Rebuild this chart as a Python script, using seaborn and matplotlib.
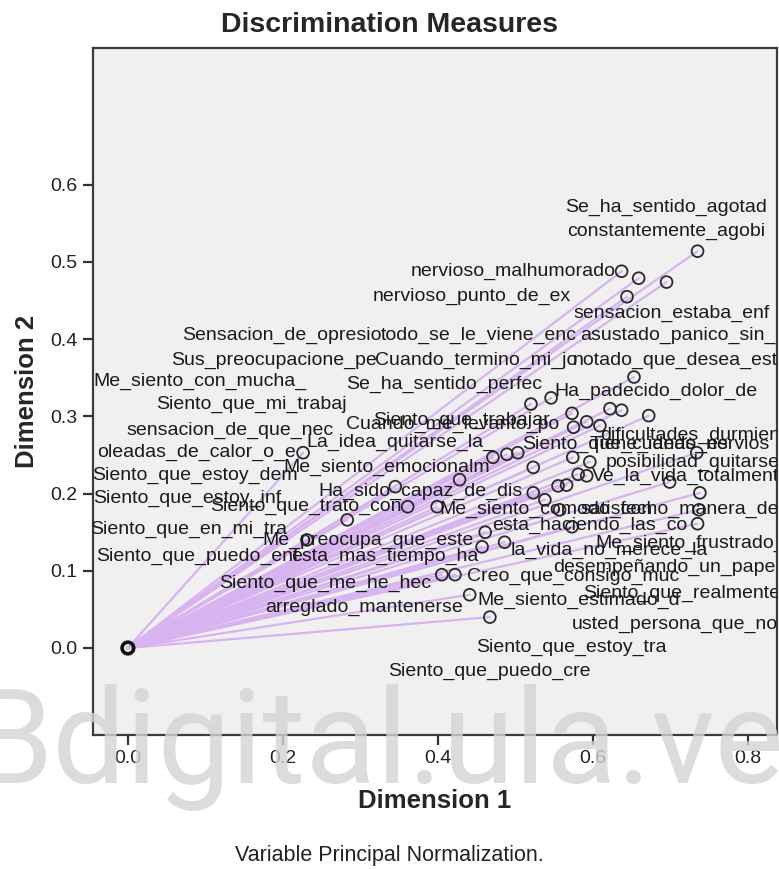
import matplotlib
matplotlib.use("Agg")
import matplotlib.pyplot as plt
import numpy as np
import pandas as pd
import seaborn as sns

# Variable names (truncated as in the CATPCA output)
variables = [
    "Se_ha_sentido_agotad", "constantemente_agobi", "nervioso_malhumorado",
    "nervioso_punto_de_ex", "sensacion_estaba_enf", "Sensacion_de_opresio",
    "todo_se_le_viene_enc", "asustado_panico_sin_", "Sus_preocupacione_pe",
    "Cuando_termino_mi_jo", "notado_que_desea_est", "Me_siento_con_mucha_",
    "Se_ha_sentido_perfec", "Ha_padecido_dolor_de", "Siento_que_mi_trabaj",
    "Cuando_me_levanto_po", "Siento_que_trabajar", "sensacion_de_que_nec",
    "dificultades_durmien", "Siento_que_cuando_es", "Tiene_ideas_nervios",
    "oleadas_de_calor_o_e", "La_idea_quitarse_la_", "Me_siento_emocionalm",
    "posibilidad_quitarse", "Siento_que_estoy_dem", "Ve_la_vida_totalment",
    "Ha_sido_capaz_de_dis", "Siento_que_estoy_inf", "Siento_que_trato_con",
    "Me_siento_comodo_con", "satisfecho_manera_de", "Siento_que_en_mi_tra",
    "esta_haciendo_las_co", "Me_preocupa_que_este", "Me_siento_frustrado_",
    "Siento_que_puedo_enf", "esta_mas_tiempo_ha", "la_vida_no_merece_la",
    "desempeñando_un_pape", "Siento_que_me_he_hec", "Creo_que_consigo_muc",
    "Siento_que_realmente", "arreglado_mantenerse", "Me_siento_estimado_d",
    "usted_persona_que_no", "Siento_que_estoy_tra", "Siento_que_puedo_cre",
]

# Discrimination measures, dimension 1
dim1 = [
    0.735, 0.695, 0.637, 0.644, 0.659, 0.520, 0.546, 0.672, 0.573, 0.622,
    0.653, 0.226, 0.637, 0.609, 0.471, 0.592, 0.575, 0.489, 0.734, 0.574,
    0.596, 0.503, 0.523, 0.428, 0.581, 0.345, 0.592, 0.523, 0.283, 0.361,
    0.399, 0.738, 0.231, 0.538, 0.461, 0.737, 0.457, 0.486, 0.555, 0.735,
    0.405, 0.566, 0.699, 0.422, 0.441, 0.557, 0.467, 0.573,
]

# Discrimination measures, dimension 2
dim2 = [
    0.514, 0.474, 0.488, 0.455, 0.479, 0.316, 0.324, 0.301, 0.304, 0.310,
    0.351, 0.253, 0.308, 0.288, 0.247, 0.293, 0.286, 0.251, 0.253, 0.247,
    0.241, 0.253, 0.234, 0.218, 0.225, 0.209, 0.223, 0.201, 0.166, 0.183,
    0.183, 0.201, 0.140, 0.192, 0.150, 0.179, 0.131, 0.137, 0.210, 0.161,
    0.095, 0.211, 0.215, 0.095, 0.069, 0.179, 0.040, 0.157,
]

# Where each variable's label is written (data coordinates, text centre)
label_x = [
    0.695, 0.695, 0.497, 0.444, 0.701, 0.199, 0.453, 0.710, 0.188, 0.449,
    0.706, 0.093, 0.408, 0.681, 0.160, 0.419, 0.431, 0.132, 0.725, 0.641,
    0.712, 0.088, 0.351, 0.334, 0.728, 0.086, 0.720, 0.378, 0.076, 0.230,
    0.539, 0.712, 0.079, 0.596, 0.310, 0.725, 0.089, 0.332, 0.621, 0.692,
    0.255, 0.574, 0.715, 0.305, 0.581, 0.706, 0.572, 0.467,
]
label_y = [
    0.571, 0.539, 0.488, 0.455, 0.433, 0.405, 0.405, 0.405, 0.373, 0.373,
    0.373, 0.345, 0.341, 0.332, 0.316, 0.290, 0.295, 0.282, 0.275, 0.264,
    0.264, 0.253, 0.266, 0.234, 0.241, 0.224, 0.222, 0.203, 0.194, 0.183,
    0.180, 0.180, 0.153, 0.159, 0.140, 0.135, 0.118, 0.118, 0.127, 0.105,
    0.084, 0.093, 0.071, 0.053, 0.061, 0.030, 0.001, -0.030,
]

x_ticks = [0.0, 0.2, 0.4, 0.6, 0.8]
y_ticks = [0.0, 0.1, 0.2, 0.3, 0.4, 0.5, 0.6]

sns.set_theme(style="white")
plt.rcParams["font.family"] = ["Liberation Sans", "DejaVu Sans"]

W, H = 779, 869
fig = plt.figure(figsize=(W / 100, H / 100), dpi=100)
ax = fig.add_axes([93 / W, 1 - 735 / H, (777 - 93) / W, (735 - 48) / H])
ax.set_facecolor("#F0F0F0")

# Vectors from the origin to each variable
vec = pd.DataFrame({
    "variable": np.repeat(variables, 2),
    "d1": np.ravel([[0.0, v] for v in dim1]),
    "d2": np.ravel([[0.0, v] for v in dim2]),
})
sns.lineplot(data=vec, x="d1", y="d2", units="variable", estimator=None,
             sort=False, color="#D7B4EF", linewidth=1.6, ax=ax, zorder=2)

pts = pd.DataFrame({"variable": variables, "d1": dim1, "d2": dim2})
sns.scatterplot(data=pts, x="d1", y="d2", marker="o", s=72,
                facecolor="none", edgecolor="#2a2a2a", linewidth=1.3,
                ax=ax, zorder=3)
# origin marker
ax.scatter([0.0], [0.0], s=70, facecolor="none", edgecolor="#111111",
           linewidth=2.6, zorder=4)

for name, lx, ly in zip(variables, label_x, label_y):
    ax.text(lx, ly, name, ha="center", va="center", fontsize=14,
            color="#1a1a1a", zorder=5, clip_on=True)

ax.set_xlim(-0.045, 0.8375)
ax.set_ylim(-0.1127, 0.7772)
ax.set_xticks(x_ticks)
ax.set_yticks(y_ticks)
ax.set_xticklabels([f"{t:.1f}" for t in x_ticks])
ax.set_yticklabels([f"{t:.1f}" for t in y_ticks])
ax.tick_params(axis="both", which="major", direction="out", length=7,
               width=1.6, color="#333333", labelsize=14, labelcolor="#222222",
               bottom=True, left=True, pad=4)
for sp in ax.spines.values():
    sp.set_color("#3c3c3c")
    sp.set_linewidth(1.6)

ax.set_xlabel("Dimension 1", fontsize=18.5, fontweight="bold", labelpad=16)
ax.set_ylabel("Dimension 2", fontsize=18.5, fontweight="bold", labelpad=8)

fig.text(0.5, 1 - 25 / H, "Discrimination Measures", ha="center",
         va="center", fontsize=20.5, fontweight="bold")
fig.text(0.5, 1 - 856 / H, "Variable Principal Normalization.", ha="center",
         va="center", fontsize=15.5, color="#222222")

# site watermark
fig.text(378 / W, 1 - 783 / H, "Bdigital.ula.ve", ha="center", va="baseline",
         fontsize=94, color="#d4d4d4", alpha=0.8, zorder=20,
         family=["Roboto", "Liberation Sans", "DejaVu Sans"])

fig.savefig("out.png", dpi=100)
